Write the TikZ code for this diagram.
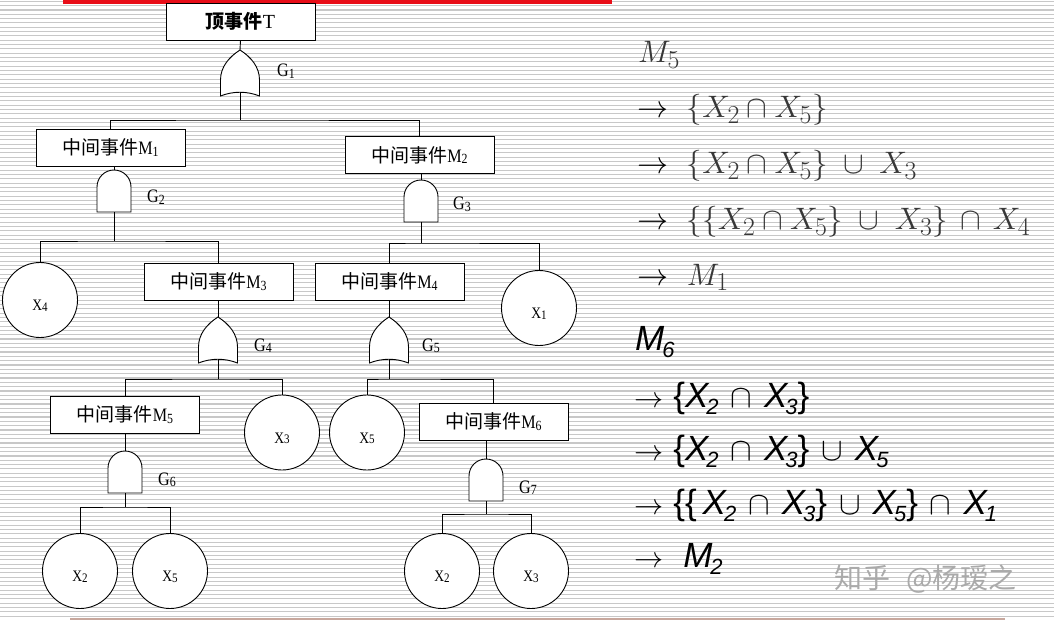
\documentclass[tikz,border=0pt]{standalone}
\usepackage{fontspec}
\setmainfont{Liberation Serif}
\newfontfamily\cjk{Noto Sans CJK SC}
\newfontfamily\arl{Liberation Sans}
\usetikzlibrary{calc}

\definecolor{topred}{RGB}{232,14,24}
\definecolor{stripe}{RGB}{200,200,200}
\definecolor{botline}{RGB}{200,168,158}
\definecolor{mathgray}{RGB}{55,55,55}
\definecolor{wmark}{RGB}{170,170,170}

\newcommand{\sublab}[2]{\scalebox{0.85}[1]{#1\raisebox{-1.5pt}{\fontsize{14}{14}\selectfont #2}}}
\newcommand{\xlab}[2]{\rule{0pt}{22pt}\scalebox{0.85}[1]{#1\raisebox{-0.5pt}{\fontsize{13}{13}\selectfont #2}}}
\newcommand{\sx}[2]{#1\kern-2pt\raisebox{-7pt}{\fontsize{22}{22}\selectfont #2}}
\newcommand{\sarrow}{\scalebox{1.17}{$\rightarrow$}}
\newcommand{\scap}{\scalebox{1.3}{$\cap$}}
\newcommand{\scup}{\scalebox{1.3}{$\cup$}}
\newcommand{\ubr}[1]{{\upshape#1}}

\tikzset{
  ln/.style={line width=0.9pt},
  evbox/.style={draw, line width=0.9pt, fill=white, minimum width=149pt, minimum height=37pt, inner sep=0pt,
     font=\cjk\fontsize{19}{19}\selectfont},
  basic/.style={circle, draw, line width=0.9pt, fill=white, minimum size=75pt, inner sep=0pt,
     font=\fontsize{16}{16}\selectfont},
  glab/.style={anchor=base west, inner sep=0pt, font=\fontsize{19}{19}\selectfont},
  mtop/.style={anchor=base west, inner sep=0pt, font=\fontsize{24.88}{30}\selectfont},
  msans/.style={anchor=base west, inner sep=0pt, font=\arl\itshape\fontsize{35}{35}\selectfont},
  orgate/.pic={
    \path[draw, fill=white, line width=0.9pt] (0,0) .. controls (11,7) and (19.5,17) .. (19.5,30)
       -- (19.5,46) .. controls (7,41) and (-7,41) .. (-19.5,46) -- (-19.5,30)
       .. controls (-19.5,17) and (-11,7) .. (0,0) -- cycle;
    \coordinate (-top) at (0,0);
    \coordinate (-bot) at (0,42);
  },
  andgate/.pic={
    \path[draw, fill=white, line width=0.9pt] (-17,42) -- (-17,17) .. controls (-17,7.6) and (-9.4,0) .. (0,0)
       .. controls (9.4,0) and (17,7.6) .. (17,17) -- (17,42) -- cycle;
    \coordinate (-top) at (0,0);
    \coordinate (-bot) at (0,42);
  }
}

\begin{document}
\begin{tikzpicture}[x=1pt,y=-1pt]
\useasboundingbox (0,0) rectangle (1054,620);
\fill[white] (0,0) rectangle (1054,620);
\foreach \i in {0,...,143} \draw[stripe, line width=1.1pt] (0,{1.3+4.33*\i}) -- (1054,{1.3+4.33*\i});
\fill[topred] (63,0) rectangle (612,4.5);
\draw[botline, line width=1.2pt] (70,619) -- (1005,619);

% events
\node[evbox, minimum width=149pt] (T) at (240.5,21.5) {{\bfseries 顶事件}{\rmfamily\fontsize{20}{20}\selectfont T}};
\node[evbox] (M1) at (110.5,147.5) {中间事件{\rmfamily\sublab{M}{1}}};
\node[evbox] (M2) at (419.5,155) {中间事件{\rmfamily\sublab{M}{2}}};
\node[evbox] (M3) at (218.5,281.5) {中间事件{\rmfamily\sublab{M}{3}}};
\node[evbox] (M4) at (389.5,281.5) {中间事件{\rmfamily\sublab{M}{4}}};
\node[evbox] (M5) at (125,414.5) {中间事件{\rmfamily\sublab{M}{5}}};
\node[evbox] (M6) at (493.5,421.5) {中间事件{\rmfamily\sublab{M}{6}}};

% basic events
\node[basic] (X4) at (40,300) {\xlab{X}{4}};
\node[basic] (X1) at (539,308) {\xlab{X}{1}};
\node[basic] (X3) at (282,432.5) {\xlab{X}{3}};
\node[basic] (X5b) at (367,432.5) {\xlab{X}{5}};
\node[basic] (X2a) at (80,571) {\xlab{X}{2}};
\node[basic] (X5a) at (170,571) {\xlab{X}{5}};
\node[basic] (X2b) at (442,571) {\xlab{X}{2}};
\node[basic] (X3b) at (531,571) {\xlab{X}{3}};

% gates
\pic (g1) at (240,50) {orgate};
\pic (g2) at (114,170) {andgate};
\pic (g3) at (421,180) {andgate};
\pic (g4) at (218,317) {orgate};
\pic (g5) at (389,317) {orgate};
\pic (g6) at (125,451) {andgate};
\pic (g7) at (486,459) {andgate};

\node[glab] (gl1) at (277,77) {\sublab{G}{1}};
\node[glab] (gl2) at (147,203) {\sublab{G}{2}};
\node[glab] (gl3) at (453,210) {\sublab{G}{3}};
\node[glab] (gl4) at (254,351) {\sublab{G}{4}};
\node[glab] (gl5) at (422,351) {\sublab{G}{5}};
\node[glab] (gl6) at (158,485) {\sublab{G}{6}};
\node[glab] (gl7) at (519,493) {\sublab{G}{7}};

% junctions
\coordinate (j1) at (240,120);
\coordinate (j2) at (114,241);
\coordinate (j3) at (421,243);
\coordinate (j4) at (218,379);
\coordinate (j5) at (389,379);
\coordinate (j6) at (125,507);
\coordinate (j7) at (486,514);

% connectors
\draw[ln] (T.south) -- (g1-top);
\draw[ln] (g1-bot) -- (j1);
\draw[ln] (M1.north) |- (j1) -| (M2.north);

\draw[ln] (g2-top) -- (g2-top |- M1.south);
\draw[ln] (g2-bot) -- (j2);
\draw[ln] (X4.north) |- (j2) -| (M3.north);

\draw[ln] (g3-top) -- (g3-top |- M2.south);
\draw[ln] (g3-bot) -- (j3);
\draw[ln] (M4.north) |- (j3) -| (X1.north);

\draw[ln] (g4-top) -- (g4-top |- M3.south);
\draw[ln] (g4-bot) -- (j4);
\draw[ln] (M5.north) |- (j4) -| (X3.north);

\draw[ln] (g5-top) -- (g5-top |- M4.south);
\draw[ln] (g5-bot) -- (j5);
\draw[ln] (X5b.north) |- (j5) -| (M6.north);

\draw[ln] (g6-top) -- (g6-top |- M5.south);
\draw[ln] (g6-bot) -- (j6);
\draw[ln] (X2a.north) |- (j6) -| (X5a.north);

\draw[ln] (g7-top) -- (g7-top |- M6.south);
\draw[ln] (g7-bot) -- (j7);
\draw[ln] (X2b.north) |- (j7) -| (X3b.north);

% derivation of M5 -> M1
\node[mtop] (a0) at (638,63) {\scalebox{1.246}{\color{mathgray}$M_5$}};
\node[mtop] (a1) at (637,118) {\scalebox{1.246}{$\rightarrow$\hspace{15pt}\color{mathgray}$\{X_2\cap X_5\}$}};
\node[mtop] (a2) at (637,174) {\scalebox{1.246}{$\rightarrow$\hspace{15pt}\color{mathgray}$\{X_2\cap X_5\}\;\cup\; X_3$}};
\node[mtop] (a3) at (637,230) {\scalebox{1.246}{$\rightarrow$\hspace{15pt}\color{mathgray}$\{\{X_2\cap X_5\}\;\cup\; X_3\}\,\cap\, X_4$}};
\node[mtop] (a4) at (637,285) {\scalebox{1.246}{$\rightarrow$\hspace{15pt}\color{mathgray}$M_1$}};

% derivation of M6 -> M2
\node[msans] (b0) at (635,350) {\sx{M}{6}};
\node[msans] (b1) at (634,407) {\sarrow\hspace{10pt}\ubr{\{}\sx{X}{2}\hspace{12pt}\scap\hspace{12pt}\sx{X}{3}\ubr{\}}};
\node[msans] (b2) at (634,460) {\sarrow\hspace{10pt}\ubr{\{}\sx{X}{2}\hspace{12pt}\scap\hspace{12pt}\sx{X}{3}\ubr{\}}\hspace{12pt}\scup\hspace{12pt}\sx{X}{5}};
\node[msans] (b3) at (634,514) {\sarrow\hspace{10pt}\ubr{\{\{}\hspace{6pt}\sx{X}{2}\hspace{12pt}\scap\hspace{12pt}\sx{X}{3}\ubr{\}}\hspace{12pt}\scup\hspace{12pt}\sx{X}{5}\ubr{\}}\hspace{12pt}\scap\hspace{12pt}\sx{X}{1}};
\node[msans] (b4) at (634,567) {\sarrow\hspace{20pt}\sx{M}{2}};

% watermark
\node[anchor=base west, inner sep=0pt, text=wmark, font=\cjk\fontsize{28}{28}\selectfont] (wm) at (834,588) {知乎\hspace{16pt}@杨瑷之};
\end{tikzpicture}
\end{document}
